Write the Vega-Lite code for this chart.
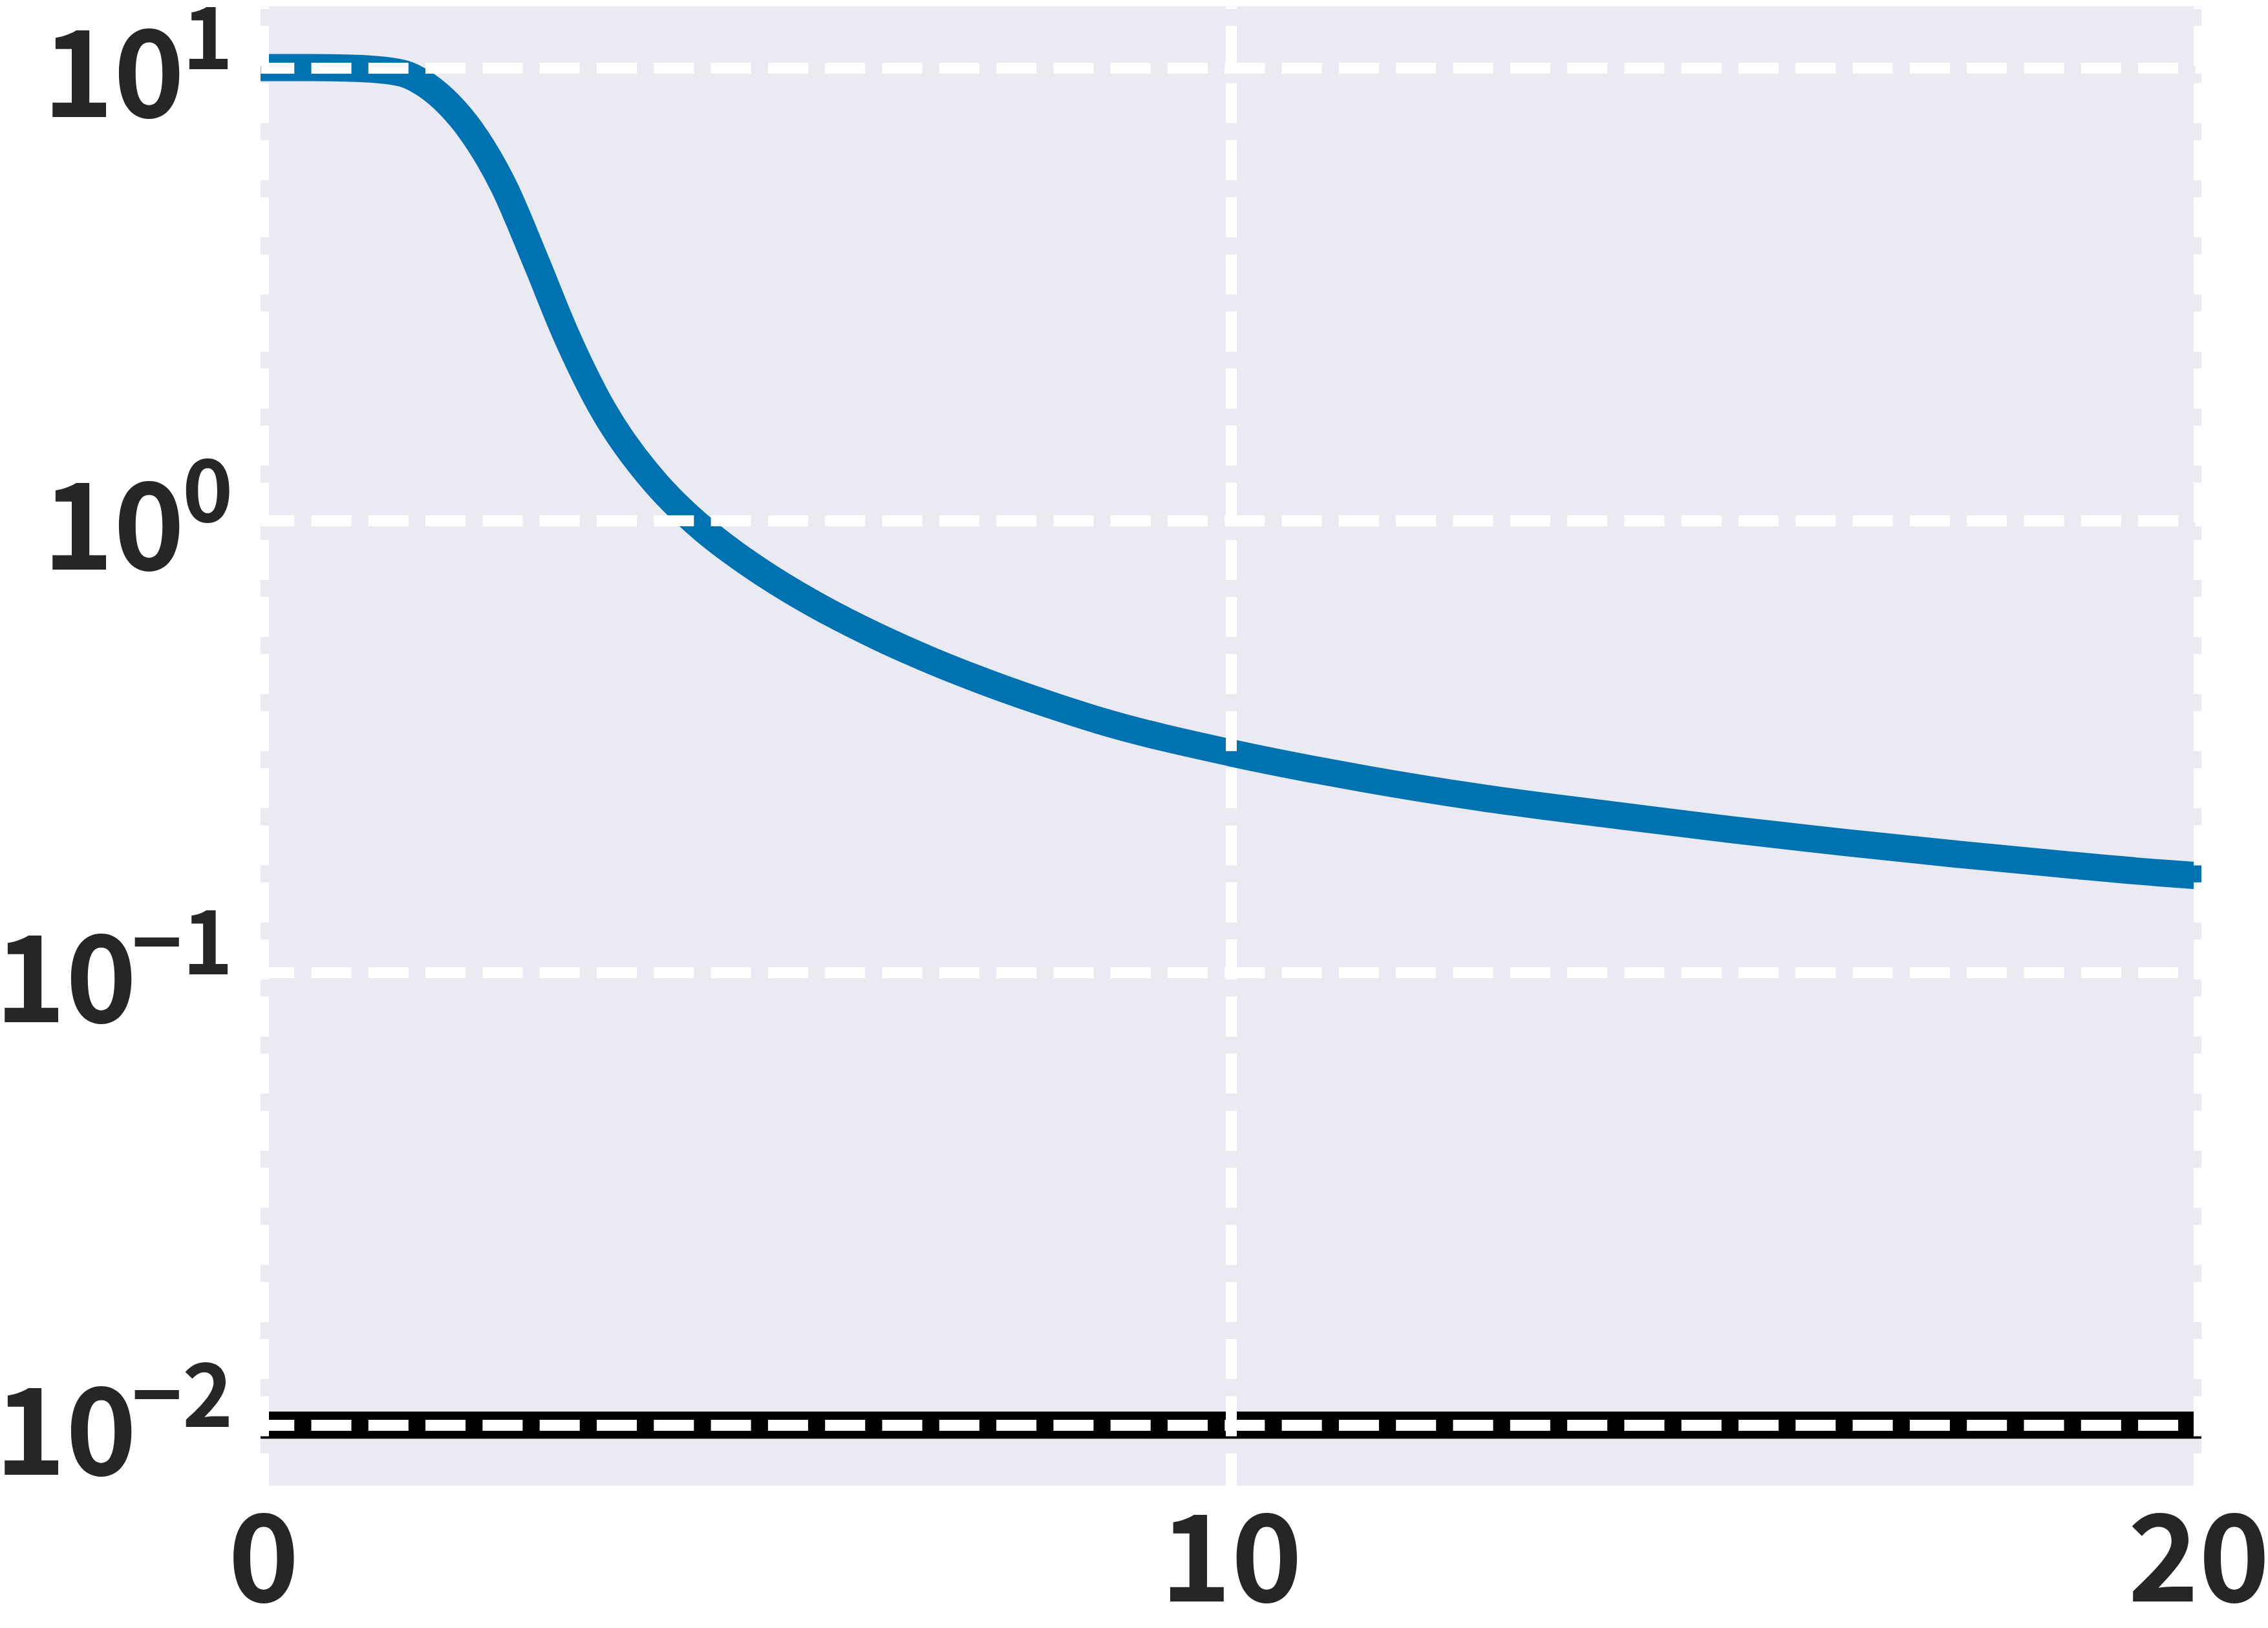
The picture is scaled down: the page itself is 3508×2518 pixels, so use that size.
{
  "$schema": "https://vega.github.io/schema/vega-lite/v6.json",
  "width": 3002,
  "height": 2288,
  "autosize": {"type": "none"},
  "padding": {"left": 403, "top": 10, "right": 103, "bottom": 220},
  "background": "white",
  "config": {
    "view": {"fill": "#EAEAF2", "stroke": null},
    "font": "Noto Sans CJK JP"
  },
  "layer": [
    {
      "data": {
        "values": [
          {"iteration": 0, "loss": 10.0},
          {"iteration": 0.5, "loss": 10.0},
          {"iteration": 0.85, "loss": 9.98},
          {"iteration": 1.226, "loss": 9.879},
          {"iteration": 1.494, "loss": 9.629},
          {"iteration": 1.687, "loss": 9.136},
          {"iteration": 1.915, "loss": 8.305},
          {"iteration": 2.14, "loss": 7.279},
          {"iteration": 2.481, "loss": 5.484},
          {"iteration": 2.81, "loss": 3.759},
          {"iteration": 3.124, "loss": 2.578},
          {"iteration": 3.501, "loss": 1.768},
          {"iteration": 4.05, "loss": 1.2111},
          {"iteration": 4.257, "loss": 1.0868},
          {"iteration": 4.554, "loss": 0.9516},
          {"iteration": 4.855, "loss": 0.8478},
          {"iteration": 5.153, "loss": 0.7661},
          {"iteration": 5.449, "loss": 0.6993},
          {"iteration": 5.75, "loss": 0.6423},
          {"iteration": 6.345, "loss": 0.5531},
          {"iteration": 6.94, "loss": 0.4856},
          {"iteration": 7.541, "loss": 0.4326},
          {"iteration": 8.136, "loss": 0.3905},
          {"iteration": 8.637, "loss": 0.3609},
          {"iteration": 10.0, "loss": 0.3061},
          {"iteration": 11.363, "loss": 0.2686},
          {"iteration": 12.726, "loss": 0.2412},
          {"iteration": 13.983, "loss": 0.2227},
          {"iteration": 15.159, "loss": 0.2072},
          {"iteration": 16.335, "loss": 0.1941},
          {"iteration": 17.511, "loss": 0.1827},
          {"iteration": 18.687, "loss": 0.1728},
          {"iteration": 19.589, "loss": 0.1662},
          {"iteration": 20.0, "loss": 0.1638}
        ]
      },
      "mark": {"type": "line", "color": "#0072B2", "strokeWidth": 42, "strokeCap": "square", "clip": true, "interpolate": "monotone"},
      "encoding": {
        "x": {
          "field": "iteration",
          "type": "quantitative",
          "scale": {"domain": [-0.03, 20.03], "nice": false, "zero": false},
          "axis": {
            "values": [0, 10, 20],
            "title": null,
            "grid": true,
            "gridColor": "white",
            "gridOpacity": 1,
            "gridWidth": 17,
            "gridDash": [62, 26.3],
            "gridDashOffset": 58.6,
            "domain": false,
            "ticks": false,
            "tickSize": 0,
            "labelFont": "Noto Sans CJK JP",
            "labelFontWeight": "bold",
            "labelFontSize": 186,
            "labelColor": "#262626",
            "labelBaseline": "alphabetic",
            "labelAlign": "center",
            "labelPadding": 178,
            "labelFlush": false,
            "labelOverlap": false,
            "labelLimit": 1000,
            "zindex": 1
          }
        },
        "y": {
          "field": "loss",
          "type": "quantitative",
          "scale": {"type": "log", "domain": [0.007349, 13.65], "nice": false},
          "axis": {
            "orient": "left",
            "values": [0.01, 0.1, 1, 10],
            "labelExpr": "'10'",
            "title": null,
            "grid": true,
            "gridColor": "white",
            "gridOpacity": 1,
            "gridWidth": 17,
            "gridDash": [62, 26.3],
            "gridDashOffset": 10.3,
            "domain": false,
            "ticks": false,
            "tickSize": 0,
            "labelFont": "Noto Sans CJK JP",
            "labelFontWeight": "bold",
            "labelFontSize": 186,
            "labelColor": "#262626",
            "labelBaseline": "alphabetic",
            "labelAlign": "right",
            "labelOffset": 76,
            "labelPadding": {"condition": {"test": "datum.value < 0.5", "value": 192}, "value": 118},
            "labelFlush": false,
            "labelOverlap": false,
            "labelLimit": 1000,
            "zindex": 1
          }
        }
      }
    },
    {
      "data": {"values": [{"level": 0.01}]},
      "mark": {"type": "rule", "color": "black", "strokeWidth": 42},
      "encoding": {
        "y": {
          "field": "level",
          "type": "quantitative",
          "scale": {"type": "log", "domain": [0.007349, 13.65], "nice": false},
          "axis": {
            "orient": "left",
            "values": [0.01, 0.1, 1, 10],
            "labelExpr": "datum.value > 5 ? '1' : datum.value > 0.5 ? '0' : datum.value > 0.05 ? '\u22121' : '\u22122'",
            "title": null,
            "grid": false,
            "domain": false,
            "ticks": false,
            "tickSize": 0,
            "labelFont": "Noto Sans CJK JP",
            "labelFontWeight": "bold",
            "labelFontSize": 133,
            "labelColor": "#262626",
            "labelBaseline": "alphabetic",
            "labelAlign": "right",
            "labelOffset": 2,
            "labelPadding": 43,
            "labelFlush": false,
            "labelOverlap": false,
            "labelLimit": 1000
          }
        }
      }
    }
  ],
  "resolve": {"axis": {"y": "independent"}}
}
